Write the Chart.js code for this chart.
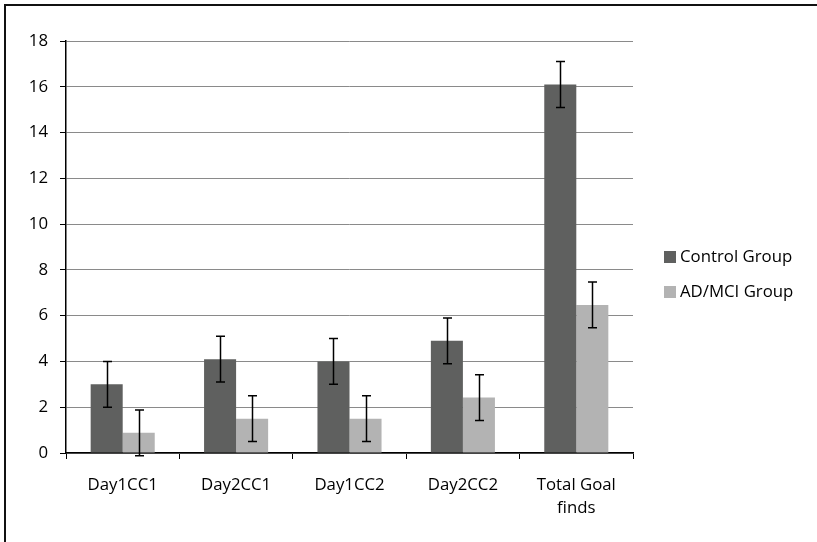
<!DOCTYPE html>
<html>
<head>
<meta charset="utf-8">
<script src="https://cdn.jsdelivr.net/npm/chart.js@4.4.0/dist/chart.umd.min.js"></script>
<style>
    body { margin: 0; background: #fff; }
    #wrap { position: relative; width: 817px; height: 542px; }
    #frame {
        position: absolute; left: 4px; top: 4px; right: 0; bottom: 0;
        border-top: 2px solid #111; border-left: 2px solid #111;
        pointer-events: none;
    }
</style>
</head>
<body>
<div id="wrap">
    <canvas id="groupChart"></canvas>
    <div id="frame"></div>
</div>
<script>
/* ==========================================
   Data
========================================== */

const categories = [
    "Day1CC1",
    "Day2CC1",
    "Day1CC2",
    "Day2CC2",
    ["Total Goal", "finds"]
];

const controlValues = [3.0, 4.1, 4.0, 4.9, 16.1];
const controlErrors = [1.0, 1.0, 1.0, 1.0, 1.0];

const adMciValues = [0.88, 1.5, 1.5, 2.42, 6.47];
const adMciErrors = [1.0, 1.0, 1.0, 1.0, 1.0];

const yMin = 0;
const yMax = 18;
const yStep = 2;

const FONT = "'Open Sans', sans-serif";

/* ==========================================
   Plugins: error bars + legend
========================================== */

const errorBars = {
    id: "errorBars",
    afterDatasetsDraw(chart) {
        const ctx = chart.ctx;
        const yScale = chart.scales.y;
        ctx.save();
        ctx.strokeStyle = "#000";
        ctx.lineWidth = 1.5;
        chart.data.datasets.forEach((ds, i) => {
            const meta = chart.getDatasetMeta(i);
            meta.data.forEach((bar, j) => {
                const v = ds.data[j];
                const e = ds.errors[j];
                const yTop = yScale.getPixelForValue(v + e);
                const yBot = yScale.getPixelForValue(v - e);
                const x = Math.round(bar.x) + 0.5;
                ctx.beginPath();
                ctx.moveTo(x, yTop);
                ctx.lineTo(x, yBot);
                ctx.moveTo(x - 4.5, yTop);
                ctx.lineTo(x + 4.5, yTop);
                ctx.moveTo(x - 4.5, yBot);
                ctx.lineTo(x + 4.5, yBot);
                ctx.stroke();
            });
        });
        ctx.restore();
    }
};

const sideLegend = {
    id: "sideLegend",
    afterDraw(chart) {
        const ctx = chart.ctx;
        const x = chart.chartArea.right + 31;
        const rows = [257, 292];
        ctx.save();
        ctx.font = "16.8px " + FONT;
        ctx.textBaseline = "middle";
        chart.data.datasets.forEach((ds, i) => {
            const y = rows[i];
            ctx.fillStyle = ds.backgroundColor;
            ctx.fillRect(x, y - 6, 12, 12);
            ctx.fillStyle = "#000";
            ctx.fillText(ds.label, x + 16, y);
        });
        ctx.restore();
    }
};

/* ==========================================
   Chart
========================================== */

const ctx = document.getElementById("groupChart").getContext("2d");

new Chart(ctx, {

    type: "bar",

    data: {
        labels: categories,
        datasets: [
            {
                label: "Control Group",
                data: controlValues,
                errors: controlErrors,
                backgroundColor: "#5f605f"
            },
            {
                label: "AD/MCI Group",
                data: adMciValues,
                errors: adMciErrors,
                backgroundColor: "#b3b3b3"
            }
        ]
    },

    options: {
        responsive: true,
        maintainAspectRatio: false,
        animation: false,
        categoryPercentage: 0.565,
        barPercentage: 1.0,
        layout: {
            padding: { top: 41, right: 184, bottom: 0, left: 0 }
        },
        plugins: {
            legend: { display: false },
            tooltip: { enabled: false }
        },
        scales: {
            x: {
                grid: {
                    offset: true,
                    drawOnChartArea: false,
                    drawTicks: true,
                    tickLength: 6,
                    color: "#000",
                    lineWidth: 1
                },
                border: { color: "#000", width: 1.5 },
                ticks: {
                    color: "#000",
                    padding: 15,
                    maxRotation: 0,
                    autoSkip: false,
                    font: { family: FONT, size: 16.8, lineHeight: 1.37 }
                },
                afterFit(scale) { scale.height = 89; }
            },
            y: {
                min: yMin,
                max: yMax,
                ticks: {
                    stepSize: yStep,
                    color: "#000",
                    padding: 12,
                    font: { family: FONT, size: 16.8 }
                },
                grid: {
                    color: "#8a8a8a",
                    tickColor: "#000",
                    tickLength: 6,
                    lineWidth: 1
                },
                border: { color: "#000", width: 1.5 },
                afterFit(scale) { scale.width = 66; }
            }
        }
    },

    plugins: [errorBars, sideLegend]

});
</script>
</body>
</html>
